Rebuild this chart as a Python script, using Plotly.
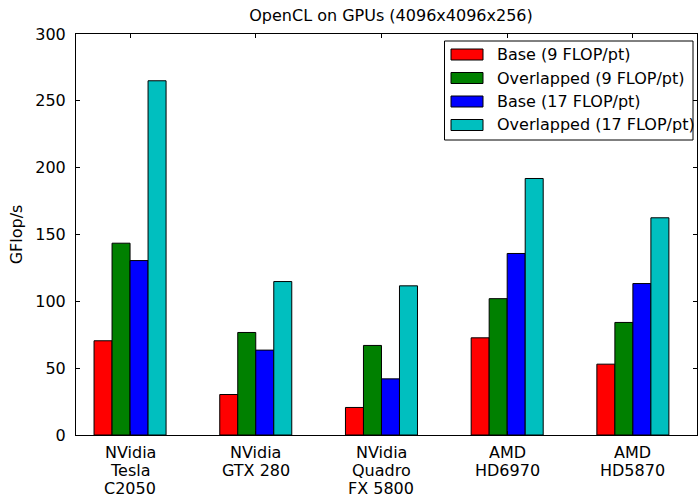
import plotly.graph_objects as go

categories = ["NVidia<br>Tesla<br>C2050", "NVidia<br>GTX 280", "NVidia<br>Quadro<br>FX 5800", "AMD<br>HD6970", "AMD<br>HD5870"]
series_names = ["Base (9 FLOP/pt)", "Overlapped (9 FLOP/pt)", "Base (17 FLOP/pt)", "Overlapped (17 FLOP/pt)"]
base9 = [70.5, 30.3, 20.6, 72.7, 53.0]
over9 = [143.5, 76.7, 67.0, 102.0, 84.2]
base17 = [130.5, 63.5, 42.0, 135.8, 113.3]
over17 = [265.0, 114.8, 111.6, 191.9, 162.5]
colors = ["#ff0000", "#008000", "#0000ff", "#00bfbf"]
yticks = [0, 50, 100, 150, 200, 250, 300]

W, H = 699, 496
ML, MR, MT, MB = 76, 2, 34, 61
PW, PH = W - ML - MR, H - MT - MB
FAM = "DejaVu Sans"
FS = 16

def px2x(px):
    return (px - ML) / PW

def px2y(py):
    return (H - MB - py) / PH

xpos = list(range(len(categories)))
fig = go.Figure()
for name, vals, col in zip(series_names, [base9, over9, base17, over17], colors):
    fig.add_trace(go.Bar(x=xpos, y=vals, name=name, showlegend=False,
                         marker=dict(color=col, line=dict(color="black", width=1))))

annotations = []
# x tick labels, one line each (matplotlib-like tight line spacing)
line_shift = [17, 35, 52.5]
for xi, lab in zip(xpos, categories):
    for k, line in enumerate(lab.split("<br>")):
        annotations.append(dict(x=xi, xref="x", y=0, yref="paper", text=line, showarrow=False,
                                xanchor="center", yanchor="middle", yshift=-line_shift[k], height=16,
                                borderpad=0, font=dict(family=FAM, size=FS, color="black")))

# legend (matplotlib style)
shapes = [dict(type="rect", xref="paper", yref="paper", x0=px2x(444.5), x1=px2x(693), y0=px2y(140), y1=px2y(41),
               line=dict(color="black", width=1), fillcolor="white", layer="above")]
row_y = [54.5, 78, 101.5, 125]
for name, col, ry in zip(series_names, colors, row_y):
    shapes.append(dict(type="rect", xref="paper", yref="paper", x0=px2x(451), x1=px2x(483),
                       y0=px2y(ry + 5.5), y1=px2y(ry - 5.5), line=dict(color="black", width=1),
                       fillcolor=col, layer="above"))
    annotations.append(dict(x=px2x(495), xref="paper", y=px2y(ry), yref="paper", text=name, showarrow=False,
                            xanchor="left", yanchor="middle", font=dict(family=FAM, size=FS, color="black")))

fig.update_layout(
    width=W, height=H,
    margin=dict(l=ML, r=MR, t=MT, b=MB),
    paper_bgcolor="white", plot_bgcolor="white",
    barmode="group", bargap=0.427, bargroupgap=0,
    font=dict(family=FAM, size=FS, color="black"),
    title=dict(text="OpenCL on GPUs (4096x4096x256)", x=391 / W, xanchor="center", y=1 - 15 / H, yanchor="middle",
               font=dict(family=FAM, size=FS, color="black")),
    showlegend=False,
    shapes=shapes,
    annotations=annotations,
)
fig.update_xaxes(range=[-0.43, 4.51], tickvals=xpos, showticklabels=False, showline=True, linecolor="black", linewidth=1,
                 mirror="allticks", ticks="inside", ticklen=4, tickcolor="black", showgrid=False, zeroline=False)
fig.update_yaxes(range=[0, 300], tickvals=yticks, showline=True, linecolor="black", linewidth=1, mirror="allticks",
                 ticks="inside", ticklen=4, tickcolor="black", showgrid=False, zeroline=False, ticklabelstandoff=6,
                 tickfont=dict(family=FAM, size=FS, color="black"),
                 title=dict(text="GFlop/s", font=dict(family=FAM, size=FS, color="black"), standoff=8))
fig.write_html("out.html")
